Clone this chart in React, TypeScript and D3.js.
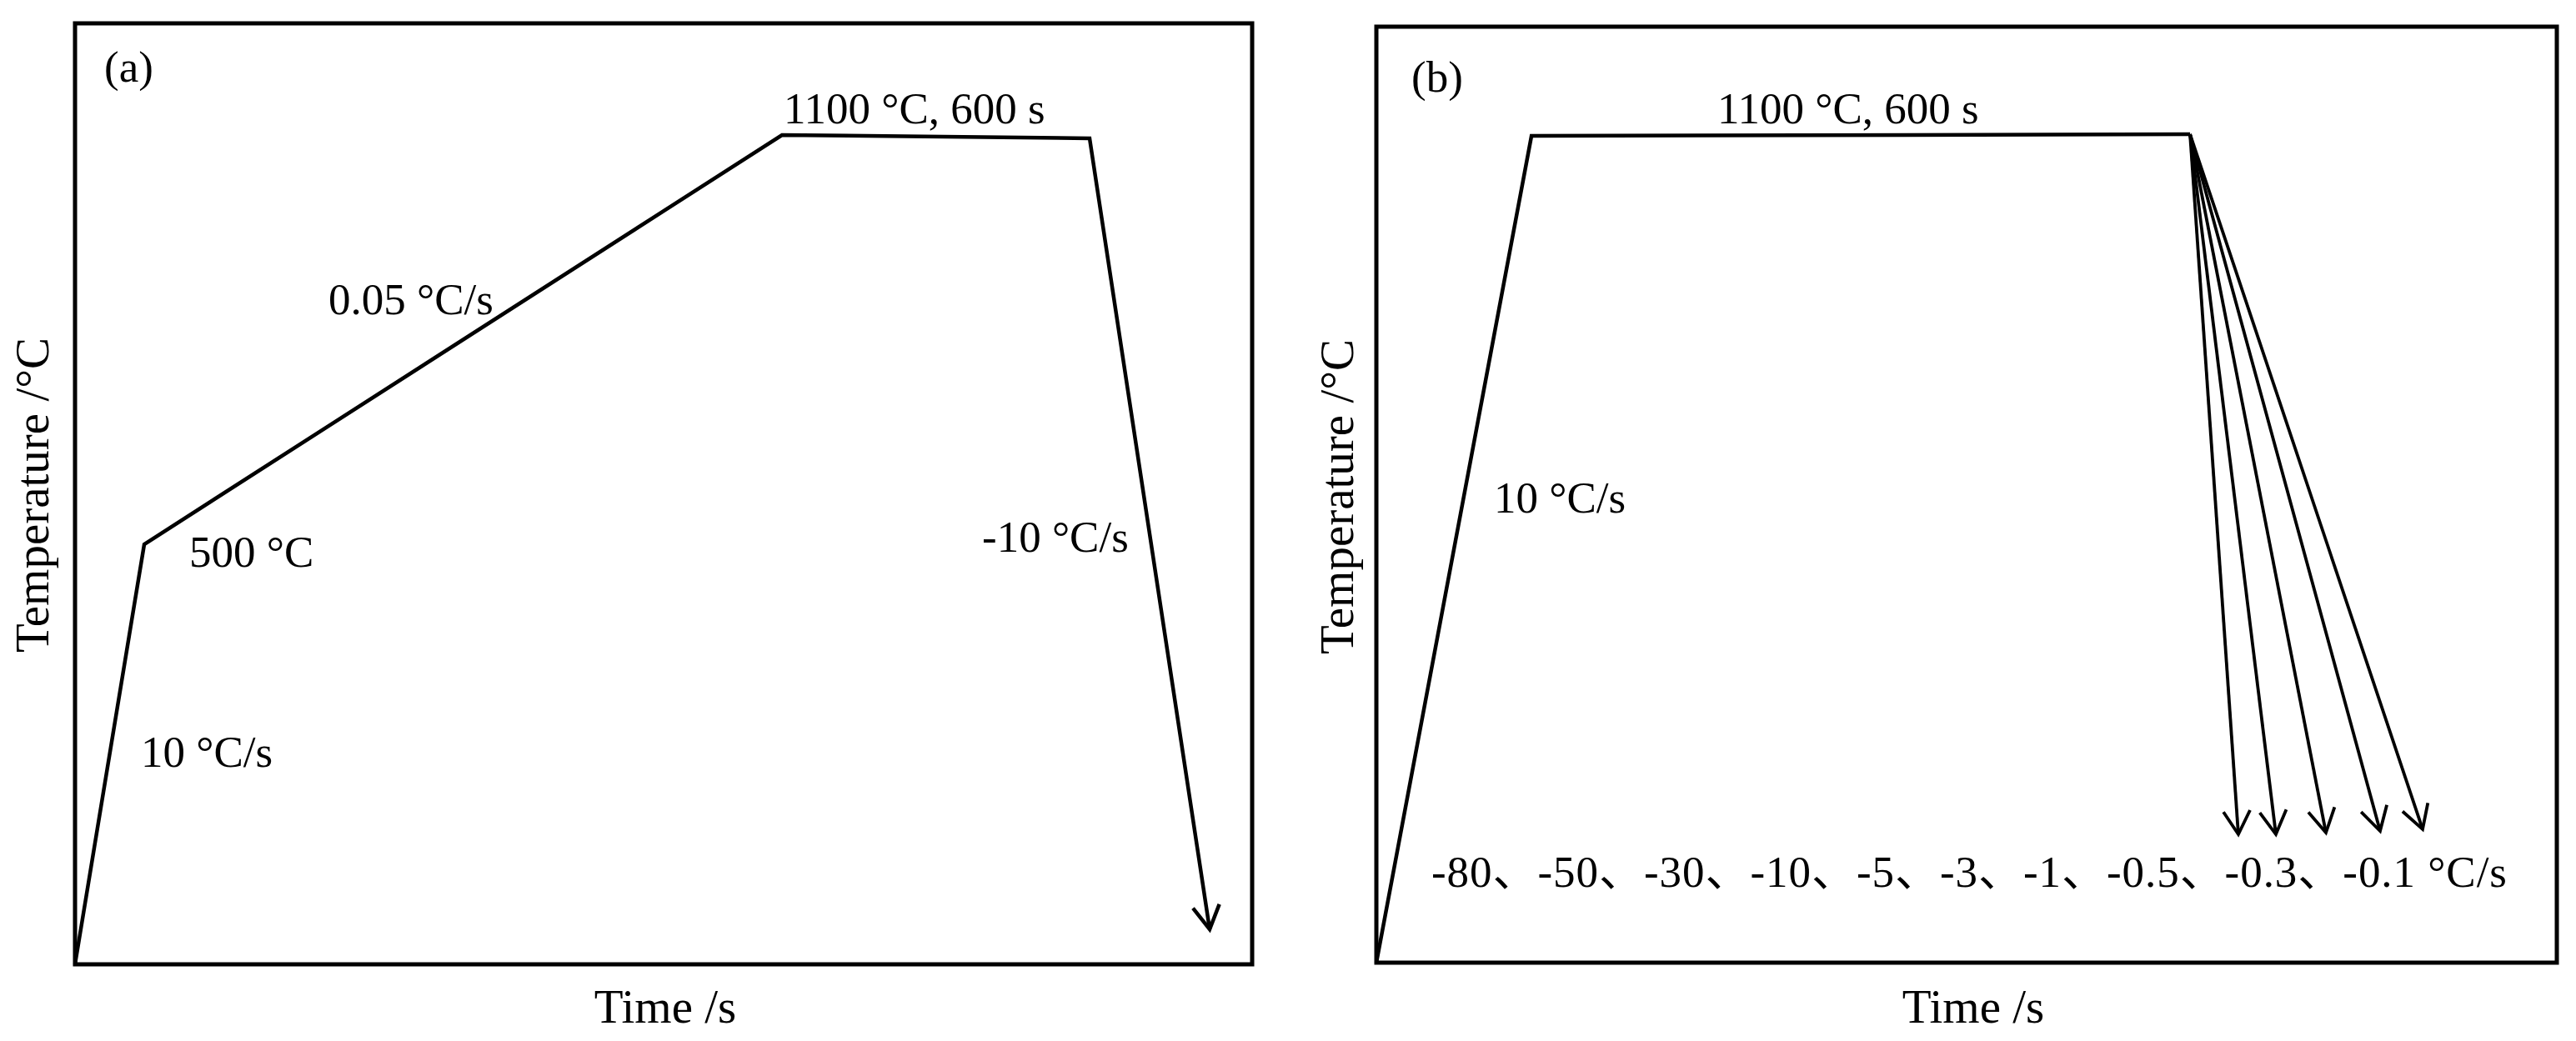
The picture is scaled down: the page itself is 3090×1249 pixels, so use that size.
import React from "react";
import * as d3 from "d3";

// Schematic heat-treatment profiles, in percent of each panel's frame (time →, temperature ↑)
const profileATime = [0, 5.88, 60.06, 86.19, 96.39];
const profileATemp = [0, 44.64, 88.13, 87.78, 3.72];

const profileBTime = [0, 13.14, 68.93];
const profileBTemp = [0, 88.33, 88.51];

// Cooling arrow end points in panel (b)
const coolEndTime = [73.02, 76.2, 80.44, 85.03, 88.63];
const coolEndTemp = [13.71, 13.71, 13.89, 14.07, 14.25];

const labelsA = ["(a)", "1100 °C, 600 s", "0.05 °C/s", "500 °C", "10 °C/s", "-10 °C/s"];
const labelsB = ["(b)", "1100 °C, 600 s", "10 °C/s", "-80、-50、-30、-10、-5、-3、-1、-0.5、-0.3、-0.1 °C/s"];
const axisTitles = ["Temperature /°C", "Time /s"];

const W = 3090;
const H = 1249;
const FONT = "'Liberation Serif', 'Times New Roman', 'Noto Sans CJK SC', serif";
const FS = 53;
const FS_AXIS = 57;

function arrowHead(p: [number, number], q: [number, number], L = 28, Wd = 16) {
  const dx = p[0] - q[0];
  const dy = p[1] - q[1];
  const len = Math.hypot(dx, dy);
  const ux = dx / len, uy = dy / len;
  const nx = -uy, ny = ux;
  const a: [number, number] = [p[0] - L * ux + Wd * nx, p[1] - L * uy + Wd * ny];
  const b: [number, number] = [p[0] - L * ux - Wd * nx, p[1] - L * uy - Wd * ny];
  return `M${a[0]},${a[1]}L${p[0]},${p[1]}L${b[0]},${b[1]}`;
}

export default function App() {
  // Panel (a)
  const ax = d3.scaleLinear().domain([0, 100]).range([90, 1502]);
  const ay = d3.scaleLinear().domain([0, 100]).range([1157, 28]);
  // Panel (b)
  const bx = d3.scaleLinear().domain([0, 100]).range([1651, 3067]);
  const by = d3.scaleLinear().domain([0, 100]).range([1155, 32]);

  const ptsA: [number, number][] = profileATime.map((t, i) => [ax(t), ay(profileATemp[i])]);
  const ptsB: [number, number][] = profileBTime.map((t, i) => [bx(t), by(profileBTemp[i])]);
  const line = d3.line();

  const origin = ptsB[ptsB.length - 1];
  const fan = coolEndTime.map((t, i) => [origin, [bx(t), by(coolEndTemp[i])]] as [number, number][]);

  const textStyle = { fontFamily: FONT, fontSize: FS, fill: "#000" } as React.CSSProperties;
  const axisStyle = { fontFamily: FONT, fontSize: FS_AXIS, fill: "#000" } as React.CSSProperties;

  return (
    <svg
      width={W}
      height={H}
      style={{ position: "absolute", left: 0, top: 0, background: "#fff" }}
    >
      <rect x={0} y={0} width={W} height={H} fill="#fff" />
      {/* Frames */}
      <rect x={ax(0)} y={ay(100)} width={ax(100) - ax(0)} height={ay(0) - ay(100)} fill="none" stroke="#000" strokeWidth={5} />
      <rect x={bx(0)} y={by(100)} width={bx(100) - bx(0)} height={by(0) - by(100)} fill="none" stroke="#000" strokeWidth={5} />

      {/* Panel (a) profile */}
      <path d={line(ptsA) || ""} fill="none" stroke="#000" strokeWidth={4.5} strokeLinejoin="miter" />
      <path
        d={arrowHead(ptsA[ptsA.length - 1], ptsA[ptsA.length - 2])}
        fill="none"
        stroke="#000"
        strokeWidth={4.5}
      />

      {/* Panel (b) profile */}
      <path d={line(ptsB) || ""} fill="none" stroke="#000" strokeWidth={4.5} />
      {fan.map((seg, i) => (
        <g key={i}>
          <path d={line(seg) || ""} fill="none" stroke="#000" strokeWidth={3.8} />
          <path d={arrowHead(seg[1], seg[0])} fill="none" stroke="#000" strokeWidth={3.8} />
        </g>
      ))}

      {/* Panel (a) labels */}
      <text x={125} y={98} style={textStyle}>{labelsA[0]}</text>
      <text x={940} y={148} style={textStyle}>{labelsA[1]}</text>
      <text x={394} y={377} style={textStyle}>{labelsA[2]}</text>
      <text x={227} y={680} style={textStyle}>{labelsA[3]}</text>
      <text x={169} y={920} style={textStyle}>{labelsA[4]}</text>
      <text x={1178} y={662} style={textStyle}>{labelsA[5]}</text>
      <text transform="translate(58,594) rotate(-90)" textAnchor="middle" style={axisStyle}>{axisTitles[0]}</text>
      <text x={798} y={1227} textAnchor="middle" style={axisStyle}>{axisTitles[1]}</text>

      {/* Panel (b) labels */}
      <text x={1693} y={110} style={textStyle}>{labelsB[0]}</text>
      <text x={2060} y={148} style={textStyle}>{labelsB[1]}</text>
      <text x={1792} y={615} style={textStyle}>{labelsB[2]}</text>
      <text x={1717} y={1064} textLength={1290} lengthAdjust="spacing" style={textStyle}>{labelsB[3]}</text>
      <text transform="translate(1623,596) rotate(-90)" textAnchor="middle" style={axisStyle}>{axisTitles[0]}</text>
      <text x={2367} y={1227} textAnchor="middle" style={axisStyle}>{axisTitles[1]}</text>
    </svg>
  );
}
